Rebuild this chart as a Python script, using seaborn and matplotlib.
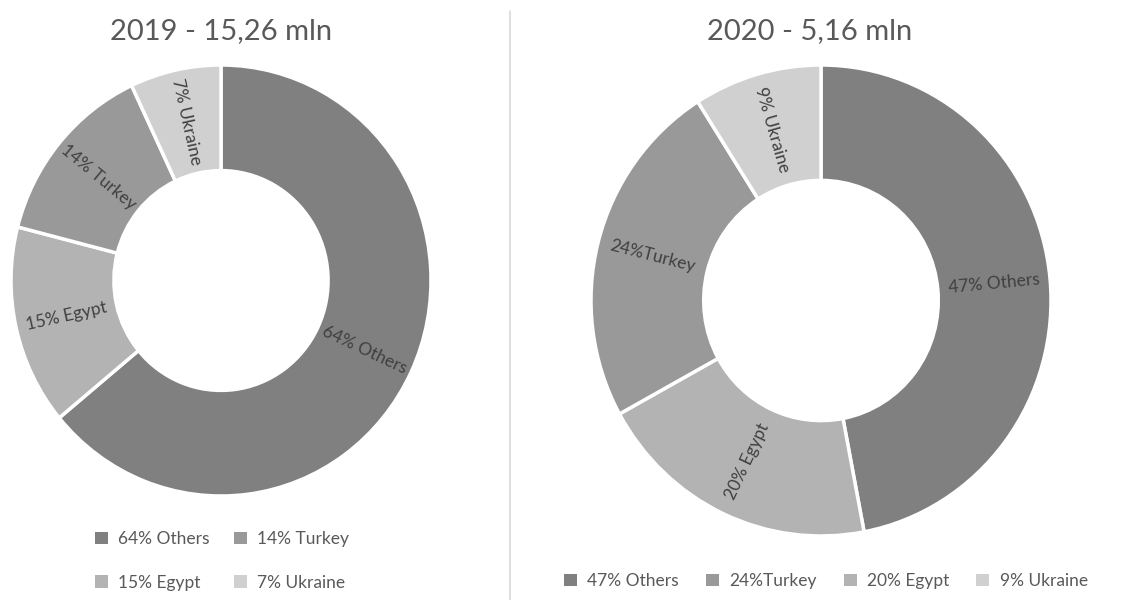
import math
import matplotlib
matplotlib.use("Agg")
import matplotlib.pyplot as plt
from matplotlib.patches import Patch
from matplotlib.lines import Line2D
import seaborn as sns

# Data
categories = ["Others", "Egypt", "Turkey", "Ukraine"]
share_2019 = [64, 15, 14, 7]
share_2020 = [47, 20, 24, 9]
labels_2019 = ["64% Others", "15% Egypt", "14% Turkey", "7% Ukraine"]
labels_2020 = ["47% Others", "20% Egypt", "24%Turkey", "9% Ukraine"]
titles = ["2019 - 15,26 mln", "2020 - 5,16 mln"]

sns.set_theme(style="white")
plt.rcParams["font.family"] = ["Lato", "DejaVu Sans"]

colors = sns.color_palette(["#808080", "#b3b3b3", "#999999", "#d0d0d0"])
label_color = "#404040"
text_color = "#595959"

W, H = 1125, 600
fig = plt.figure(figsize=(W / 100, H / 100), dpi=100)
RING = 0.49


def donut(cx, cy, rx, ry, values, labels):
    ax = fig.add_axes([(cx - rx) / W, 1 - (cy + ry) / H, 2 * rx / W, 2 * ry / H])
    wedges, _ = ax.pie(values, colors=colors, startangle=90, counterclock=False,
                       radius=1,
                       wedgeprops=dict(width=RING, edgecolor="white", linewidth=2.5))
    ax.set_xlim(-1, 1)
    ax.set_ylim(-1, 1)
    ax.set_aspect("auto")
    ax.axis("off")
    rr = 1 - RING / 2
    for w, lab in zip(wedges, labels):
        ang = (w.theta1 + w.theta2) / 2
        x = rr * math.cos(math.radians(ang))
        y = rr * math.sin(math.radians(ang))
        rot = ang
        while rot > 90:
            rot -= 180
        while rot <= -90:
            rot += 180
        ax.text(x, y, lab, rotation=rot, rotation_mode="anchor",
                ha="center", va="center", fontsize=12.5, color=label_color)
    return ax


donut(221, 280.5, 210, 215.5, share_2019, labels_2019)
donut(821, 300.5, 230, 235.5, share_2020, labels_2020)

fig.text(221 / W, 1 - 31 / H, titles[0], ha="center", va="center",
         fontsize=21, color=text_color)
fig.text(810 / W, 1 - 31 / H, titles[1], ha="center", va="center",
         fontsize=21, color=text_color)

# Divider between the two panels
fig.add_artist(Line2D([510 / W, 510 / W], [0, 1 - 11 / H], color="#d9d9d9", lw=1.2))

handles = [Patch(facecolor=c, edgecolor="none") for c in colors]

# Left legend: two columns, filled column-wise
fig.legend(handles, labels_2019, loc="center", bbox_to_anchor=(222 / W, 1 - 561 / H),
           ncol=2, frameon=False, handlelength=0.75, handleheight=0.75,
           labelspacing=1.6, columnspacing=1.4, handletextpad=0.6,
           fontsize=12.5, labelcolor=text_color)

# Right legend: one row
order = [0, 2, 1, 3]
fig.legend([handles[i] for i in order], [labels_2020[i] for i in order],
           loc="center", bbox_to_anchor=(826 / W, 1 - 581 / H),
           ncol=4, frameon=False, handlelength=0.75, handleheight=0.75,
           columnspacing=1.55, handletextpad=0.6,
           fontsize=12.5, labelcolor=text_color)

fig.savefig("out.png", dpi=100, facecolor="white")
